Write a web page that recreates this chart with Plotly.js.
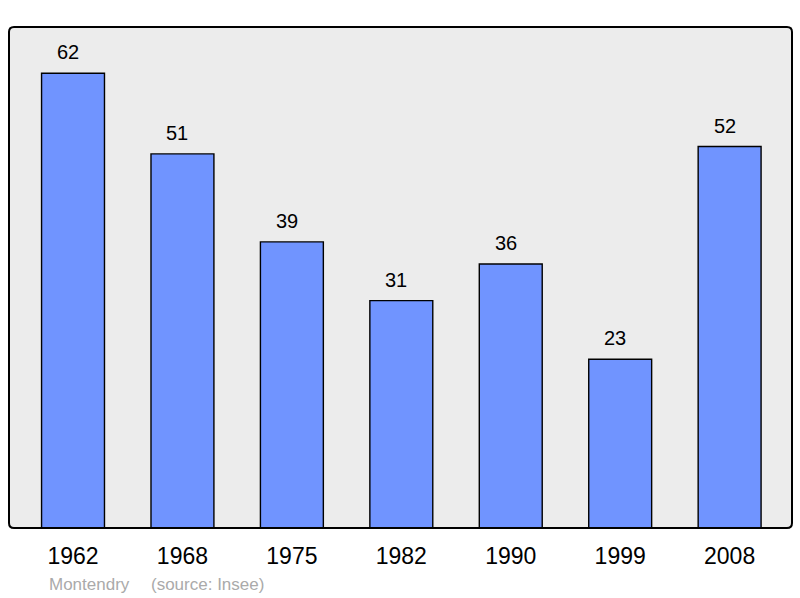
<!DOCTYPE html>
<html><head><meta charset="utf-8">
<script src="https://cdn.plot.ly/plotly-3.0.1.min.js"></script>
<style>html,body{margin:0;padding:0;background:#fff}#c{width:800px;height:598px}</style>
</head><body><div id="c"></div>
<script>
const years = ["1962","1968","1975","1982","1990","1999","2008"];
const population = [62,51,39,31,36,23,52];
const sourceName = "Montendry";
const sourceCredit = "(source: Insee)";

const W = 800, H = 598;
const m = {l:9, r:8, t:27, b:70};
const pw = W - m.l - m.r, ph = H - m.t - m.b;
const rx = 5/pw, ry = 5/ph;
const framePath = `M ${rx},0 L ${1-rx},0 Q 1,0 1,${ry} L 1,${1-ry} Q 1,1 ${1-rx},1 L ${rx},1 Q 0,1 0,${1-ry} L 0,${ry} Q 0,0 ${rx},0 Z`;
const FONT = 'Liberation Sans, Arial, sans-serif';

const trace = {
  type:'bar', x: years.map((_,i)=>i), y: population,
  width: 0.575,
  marker:{color:'#7094ff', line:{color:'#000', width:1.4}},
  hoverinfo:'none'
};
const annotations = years.map((yr,i)=>({
  x:i, y:population[i], xref:'x', yref:'y', text:String(population[i]),
  showarrow:false, yanchor:'bottom', yshift:8, xshift:-5,
  font:{family:FONT, size:20, color:'#000'}
}));
annotations.push({
  xref:'paper', yref:'paper', x:(47-m.l)/pw, y:-(584-528)/ph, xanchor:'left', yanchor:'middle',
  text:sourceName, showarrow:false,
  font:{family:FONT, size:17, color:'#aaaaaa'}
});
annotations.push({
  xref:'paper', yref:'paper', x:(149-m.l)/pw, y:-(584-528)/ph, xanchor:'left', yanchor:'middle',
  text:sourceCredit, showarrow:false,
  font:{family:FONT, size:17, color:'#aaaaaa'}
});
const layout = {
  width:W, height:H, margin:m,
  paper_bgcolor:'#fff', plot_bgcolor:'#ececec',
  showlegend:false,
  xaxis:{range:[-0.585,6.57], tickvals:years.map((_,i)=>i), ticktext:years,
    showgrid:false, zeroline:false, showline:false, ticks:'',
    ticklabelstandoff:12,
    tickfont:{family:FONT, size:23, color:'#000'}, fixedrange:true},
  yaxis:{range:[0,68.3], showgrid:false, zeroline:false, showticklabels:false, ticks:'', fixedrange:true},
  annotations:annotations,
  shapes:[{type:'path', xref:'paper', yref:'paper', path:framePath, line:{color:'#000', width:2}, layer:'above'}]
};
Plotly.newPlot('c',[trace],layout,{displayModeBar:false, staticPlot:true});
</script></body></html>
